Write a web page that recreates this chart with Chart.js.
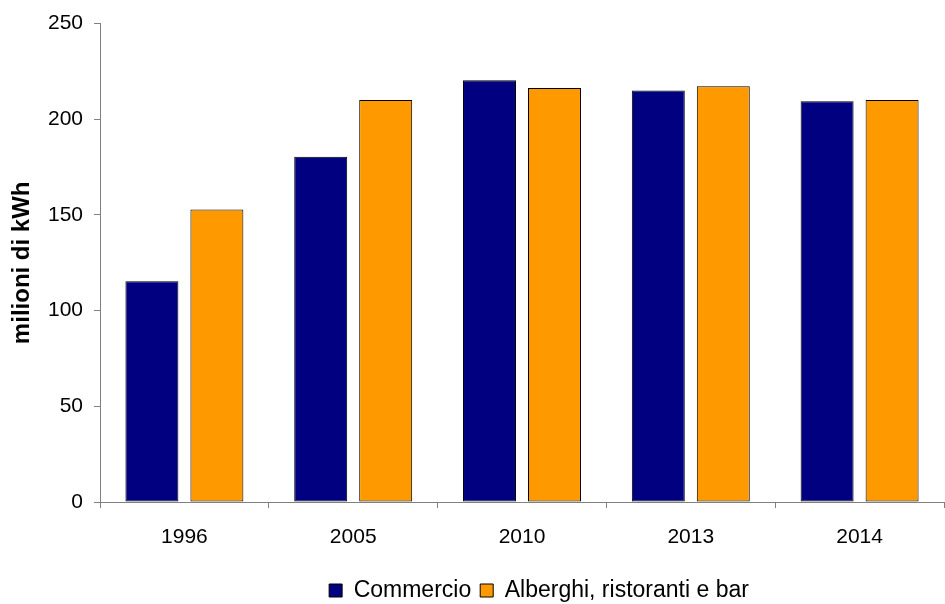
<!DOCTYPE html>
<html>
<head>
<meta charset="utf-8">
<script src="https://cdn.jsdelivr.net/npm/chart.js@4"></script>
<style>
  html, body { margin: 0; padding: 0; background: #fff; }
  #wrap { width: 945px; height: 604px; position: relative; }
</style>
</head>
<body>
<div id="wrap"><canvas id="energy-chart"></canvas></div>
<script>
const years = ["1996", "2005", "2010", "2013", "2014"];
const commercio = [115.3, 180.4, 220.4, 215.0, 209.4];
const alberghi = [152.9, 210.1, 216.4, 217.3, 210.1];
const yTicks = [0, 50, 100, 150, 200, 250];

Chart.defaults.font.family = "'Liberation Sans', Arial, sans-serif";
Chart.defaults.color = "#000";

// the original legend sits right of the canvas centre
const legendShift = {
    id: "legendShift",
    afterLayout(chart) {
        chart.legend.left += 67;
        chart.legend.right += 67;
    },
};

const energyChart = new Chart(document.getElementById("energy-chart"), {
    type: "bar",
    data: {
        labels: years,
        datasets: [
            {
                label: "Commercio",
                data: commercio,
                backgroundColor: "#000080",
                borderColor: "#000",
                borderWidth: 1,
                borderSkipped: false,
                categoryPercentage: 0.77,
                barPercentage: 0.815,
            },
            {
                label: "Alberghi, ristoranti e bar",
                data: alberghi,
                backgroundColor: "#ff9900",
                borderColor: "#000",
                borderWidth: 1,
                borderSkipped: false,
                categoryPercentage: 0.77,
                barPercentage: 0.815,
            },
        ],
    },
    options: {
        responsive: true,
        maintainAspectRatio: false,
        animation: false,
        layout: { padding: { top: 22, right: 1, left: 0, bottom: -8 } },
        plugins: {
            tooltip: { enabled: false },
            legend: {
                position: "bottom",
                labels: {
                    boxWidth: 13,
                    boxHeight: 13,
                    padding: 9,
                    font: { size: 23 },
                    color: "#000",
                },
            },
        },
        scales: {
            x: {
                grid: {
                    drawOnChartArea: false,
                    drawTicks: true,
                    tickLength: 6,
                    color: "#808080",
                },
                border: { color: "#808080", width: 1 },
                ticks: { font: { size: 21 }, padding: 17, color: "#000" },
                afterFit: (scale) => { scale.height = 68; },
            },
            y: {
                min: 0,
                max: 250,
                afterBuildTicks: (scale) => {
                    scale.ticks = yTicks.map((v) => ({ value: v }));
                },
                grid: {
                    drawOnChartArea: false,
                    drawTicks: true,
                    tickLength: 6,
                    color: "#808080",
                },
                border: { color: "#808080", width: 1 },
                ticks: { font: { size: 21 }, padding: 11, color: "#000" },
                title: {
                    display: true,
                    text: "milioni di kWh",
                    font: { size: 24, weight: "bold" },
                    color: "#000",
                    padding: { top: 8, bottom: 0 },
                },
                afterFit: (scale) => { scale.width = 100; },
            },
        },
    },
    plugins: [legendShift],
});
</script>
</body>
</html>
